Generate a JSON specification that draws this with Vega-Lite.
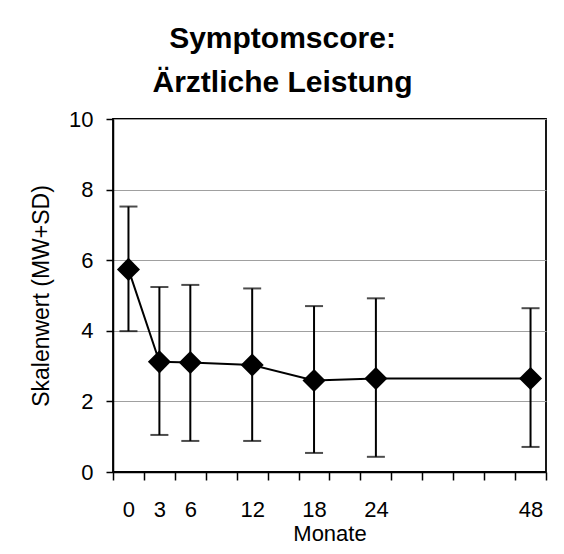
{
  "$schema": "https://vega.github.io/schema/vega-lite/v6.json",
  "width": 433,
  "height": 353,
  "autosize": {"type": "none"},
  "padding": {"left": 113, "top": 119, "right": 18, "bottom": 82},
  "background": "white",
  "title": {
    "text": ["Symptomscore:", "Ärztliche Leistung"],
    "font": "Liberation Sans",
    "fontSize": 30,
    "fontWeight": "bold",
    "lineHeight": 44,
    "color": "black",
    "anchor": "middle",
    "frame": "group",
    "baseline": "bottom",
    "dx": -47,
    "offset": -20
  },
  "config": {
    "view": {"stroke": "black", "strokeWidth": 1.8},
    "axis": {
      "labelFont": "Liberation Sans",
      "titleFont": "Liberation Sans",
      "labelFontSize": 22,
      "titleFontSize": 22,
      "labelColor": "black",
      "titleColor": "black",
      "titleFontWeight": "normal",
      "domainColor": "black",
      "domainWidth": 1.5,
      "tickColor": "black",
      "tickWidth": 1.5
    }
  },
  "data": {
    "values": [
      {"Monat": 0, "MW": 5.74, "oben": 7.52, "unten": 3.99},
      {"Monat": 3, "MW": 3.12, "oben": 5.24, "unten": 1.05},
      {"Monat": 6, "MW": 3.10, "oben": 5.30, "unten": 0.88},
      {"Monat": 12, "MW": 3.03, "oben": 5.20, "unten": 0.88},
      {"Monat": 18, "MW": 2.59, "oben": 4.70, "unten": 0.54},
      {"Monat": 24, "MW": 2.65, "oben": 4.92, "unten": 0.43},
      {"Monat": 48, "MW": 2.65, "oben": 4.64, "unten": 0.71}
    ]
  },
  "encoding": {
    "x": {
      "field": "Monat",
      "type": "ordinal",
      "scale": {
        "type": "band",
        "domain": [0, 3, 6, 9, 12, 15, 18, 21, 24, 30, 36, 40, 44, 48],
        "paddingInner": 0,
        "paddingOuter": 0
      },
      "axis": {
        "title": "Monate",
        "labelAngle": 0,
        "tickBand": "extent",
        "tickSize": 8,
        "labelPadding": 19,
        "grid": false,
        "labelExpr": "indexof([0,3,6,12,18,24,48], datum.value) >= 0 ? datum.label : ''",
        "titleBaseline": "middle",
        "titleY": 61
      }
    }
  },
  "layer": [
    {
      "mark": {"type": "rule", "color": "black", "strokeWidth": 2},
      "encoding": {
        "y": {
          "field": "unten",
          "type": "quantitative",
          "scale": {"domain": [0, 10], "nice": false},
          "axis": {
            "title": "Skalenwert (MW+SD)",
            "titleFontSize": 23,
            "values": [0, 2, 4, 6, 8, 10],
            "tickSize": 7,
            "labelPadding": 13,
            "grid": true,
            "gridColor": "#a0a0a0",
            "gridWidth": 1,
            "titleBaseline": "middle",
            "titleX": -72
          }
        },
        "y2": {"field": "oben"}
      }
    },
    {
      "mark": {"type": "tick", "color": "black", "thickness": 2, "size": 18},
      "encoding": {"y": {"field": "oben", "type": "quantitative"}}
    },
    {
      "mark": {"type": "tick", "color": "black", "thickness": 2, "size": 18},
      "encoding": {"y": {"field": "unten", "type": "quantitative"}}
    },
    {
      "mark": {"type": "line", "color": "black", "strokeWidth": 2},
      "encoding": {"y": {"field": "MW", "type": "quantitative"}}
    },
    {
      "mark": {"type": "point", "shape": "diamond", "filled": true, "color": "black", "size": 530, "opacity": 1},
      "encoding": {"y": {"field": "MW", "type": "quantitative"}}
    }
  ]
}
